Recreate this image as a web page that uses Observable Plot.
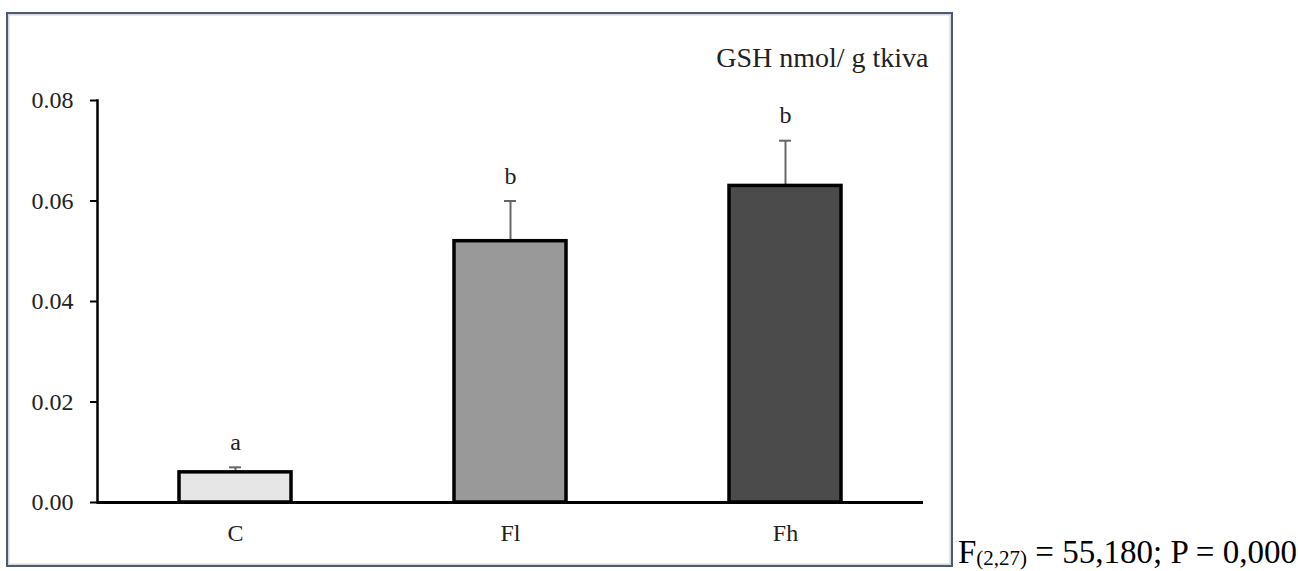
<!DOCTYPE html>
<html>
<head>
<meta charset="utf-8">
<script src="https://cdn.jsdelivr.net/npm/d3@7"></script>
<script src="https://cdn.jsdelivr.net/npm/@observablehq/plot@0.6"></script>
<style>
  html, body { margin: 0; padding: 0; background: #fff; }
  body { width: 1298px; height: 571px; position: relative; overflow: hidden; font-family: "Liberation Serif", "Times New Roman", serif; }
  #frame { position: absolute; left: 6px; top: 12px; width: 947px; height: 555px; box-sizing: border-box;
           border: 2px solid #4b5b72; box-shadow: inset 0 0 0 1.5px #d8d8d8; }
  #chart { position: absolute; left: 0; top: 0; }
  #chart text { font-family: "Liberation Serif", "Times New Roman", serif !important; }
  #caption { position: absolute; left: 958px; top: 535px; font-size: 33px; color: #000; white-space: nowrap; line-height: 34px; }
  #caption sub { font-size: 21px; vertical-align: -2px; line-height: 0; }
</style>
</head>
<body>
<div id="frame"></div>
<div id="chart"></div>
<div id="caption">F<sub>(2,27)</sub> = 55,180; P = 0,000</div>
<script>
const categories = ["C", "Fl", "Fh"];
const means = [0.006, 0.052, 0.063];
const errors = [0.001, 0.008, 0.009];
const letters = ["a", "b", "b"];
const fills = ["#e6e6e6", "#999999", "#4b4b4b"];
const yTicks = [0, 0.02, 0.04, 0.06, 0.08];
const unitLabel = "GSH nmol/ g tkiva";

const serif = "Liberation Serif";

const data = categories.map((c, i) => ({
  cat: c, mean: means[i], err: errors[i], top: means[i] + errors[i], letter: letters[i], fill: fills[i]
}));

const chart = Plot.plot({
  width: 960,
  height: 571,
  marginLeft: 97,
  marginRight: 37,
  marginTop: 100,
  marginBottom: 69,
  style: { fontFamily: serif, fontSize: "24px", color: "#000", background: "transparent", overflow: "visible" },
  x: { domain: categories, paddingInner: 0.593, paddingOuter: 0.2965, align: 0.5, label: null },
  y: { domain: [0, 0.08], label: null },
  marks: [
    Plot.ruleX(data, { x: "cat", y1: "mean", y2: "top", stroke: "#666666", strokeWidth: 2 }),
    Plot.tickY(data, { x: "cat", y: "top", stroke: "#666666", strokeWidth: 2, insetLeft: 50, insetRight: 50 }),
    Plot.barY(data, { x: "cat", y: "mean", fill: d => d.fill, stroke: "#000", strokeWidth: 3.5 }),
    Plot.text(data, { x: "cat", y: "top", text: "letter", dy: -25, fontSize: 24, fill: "#222" }),
    Plot.axisY({ ticks: yTicks, tickFormat: d3.format(".2f"), tickSize: 7, tickPadding: 17, strokeWidth: 2, stroke: "#000", fontSize: 24, fill: "#222" }),
    Plot.axisX({ tickSize: 0, tickPadding: 21, fontSize: 24, fill: "#222" }),
    Plot.frame({ anchor: "left", stroke: "#000", strokeWidth: 2.5 }),
    Plot.ruleY([0], { stroke: "#000", strokeWidth: 3 }),
    Plot.text([unitLabel], { frameAnchor: "top-right", text: d => d, dx: 5, dy: -34, fontSize: 28, fill: "#222", textAnchor: "end", lineAnchor: "bottom" })
  ]
});
d3.select(chart).selectAll("text").style("font-family", "'Liberation Serif', 'Times New Roman', serif").style("font-variant", "normal");
document.getElementById("chart").appendChild(chart);
// force layout so the serif font is resolved before the picture is taken
let total = 0;
d3.select(chart).selectAll("text").each(function() { total += this.getBBox().width + getComputedStyle(this).fontFamily.length; });
document.body.dataset.textWidth = String(total);
</script>
</body>
</html>
